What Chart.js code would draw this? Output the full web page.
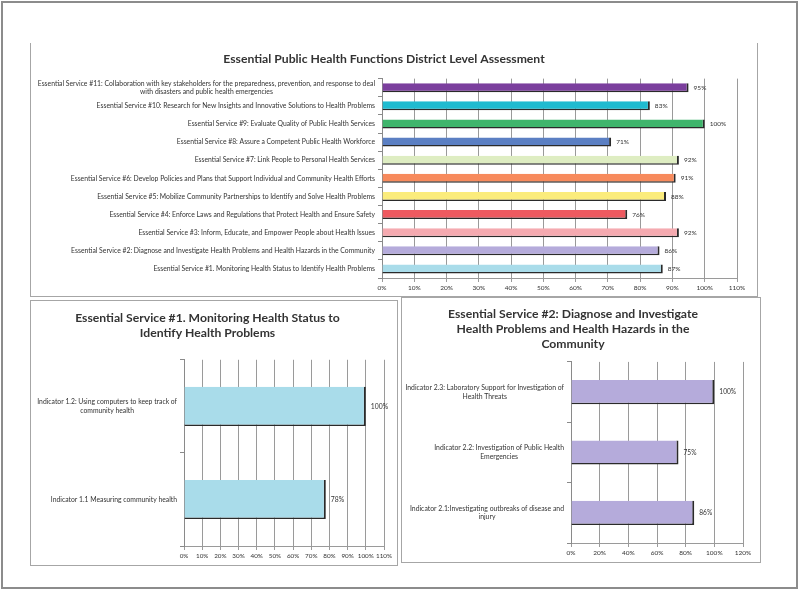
<!DOCTYPE html>
<html lang="en">
<head>
<meta charset="UTF-8">
<title>Essential Public Health Functions District Level Assessment</title>
<script src="https://cdn.jsdelivr.net/npm/chart.js"></script>
<style>
  body { margin: 0; background: #fff; width: 800px; height: 590px; position: relative; overflow: hidden; }
  .frame { position: absolute; left: 1px; top: 1px; width: 793px; height: 584px; border: 2px solid #8c8c8c; }
  .panel { position: absolute; border: 1.5px solid #a6a6a6; box-sizing: border-box; }
  canvas { position: absolute; }
</style>
</head>
<body>
<div class="frame"></div>
<div class="panel" style="left:30px;top:43px;width:728px;height:254px;border-top:none"></div>
<div class="panel" style="left:30px;top:300px;width:368px;height:266px"></div>
<div class="panel" style="left:401px;top:297px;width:360px;height:266px"></div>

<canvas id="topChart" width="725" height="252" style="left:31px;top:43px"></canvas>
<canvas id="es1Chart" width="365" height="263" style="left:31px;top:301px"></canvas>
<canvas id="es2Chart" width="356" height="262" style="left:403px;top:299px"></canvas>

<script>
// ---- data ----
const topLabels = [
    ['Essential Service #11: Collaboration with key stakeholders for the preparedness, prevention, and response to deal', 'with disasters and public health emergencies'],
    'Essential Service #10: Research for New Insights and Innovative Solutions to Health Problems',
    'Essential Service #9: Evaluate Quality of Public Health Services',
    'Essential Service #8: Assure a Competent Public Health Workforce',
    'Essential Service #7: Link People to Personal Health Services',
    'Essential Service #6: Develop Policies and Plans that Support Individual and Community Health Efforts',
    'Essential Service #5: Mobilize Community Partnerships to Identify and Solve Health Problems',
    'Essential Service #4: Enforce Laws and Regulations that Protect Health and Ensure Safety',
    'Essential Service #3: Inform, Educate, and Empower People about Health Issues',
    'Essential Service #2: Diagnose and Investigate Health Problems and Health Hazards in the Community',
    'Essential Service #1. Monitoring Health Status to Identify Health Problems'
];
const topValues = [95, 83, 100, 71, 92, 91, 88, 76, 92, 86, 87];
const topColors = ['#7b3f9d', '#1fbbd0', '#3fb56c', '#5b7fc3', '#deedc2', '#f78a5c',
                   '#fbec7c', '#ee5a60', '#f5aab0', '#b5abdb', '#a9dcea'];

const es1Labels = [
    ['Indicator 1.2: Using computers to keep track of', 'community health'],
    'Indicator 1.1 Measuring community health'
];
const es1Values = [100, 78];

const es2Labels = [
    ['Indicator 2.3: Laboratory Support for Investigation of', 'Health Threats'],
    ['Indicator 2.2: Investigation of Public Health', 'Emergencies'],
    ['Indicator 2.1:Investigating outbreaks of disease and', 'injury']
];
const es2Values = [100, 75, 86];

const FONT = 'Lato, "Open Sans", sans-serif';
const TEXT = '#333';

// y labels: block right aligned, lines centred under each other (like Excel)
const yLabelPlugin = {
    id: 'yLabels',
    afterDraw(chart) {
        const opts = chart.options.plugins.yLabels;
        const s = chart.scales.y;
        const ctx = chart.ctx;
        ctx.save();
        ctx.font = opts.size + 'px ' + FONT;
        ctx.fillStyle = TEXT;
        ctx.textAlign = 'center';
        ctx.textBaseline = 'middle';
        chart.data.labels.forEach((lab, i) => {
            const lines = Array.isArray(lab) ? lab : [lab];
            const w = Math.max(...lines.map(l => ctx.measureText(l).width));
            const cx = s.right - 7 - w / 2;
            const y0 = s.getPixelForTick(i) - (lines.length - 1) * opts.lh / 2;
            lines.forEach((l, k) => ctx.fillText(l, cx, y0 + k * opts.lh));
        });
        ctx.restore();
    }
};

// value labels at the end of each bar
const valueLabelPlugin = {
    id: 'valueLabels',
    afterDatasetsDraw(chart) {
        const opts = chart.options.plugins.valueLabels;
        const ctx = chart.ctx;
        const vals = chart.data.datasets[0].data;
        ctx.save();
        ctx.font = opts.size + 'px ' + FONT;
        ctx.fillStyle = TEXT;
        ctx.textAlign = 'left';
        ctx.textBaseline = 'middle';
        chart.getDatasetMeta(0).data.forEach((bar, i) => {
            ctx.fillText(vals[i] + '%', bar.x + 5, bar.y);
        });
        ctx.restore();
    }
};

function makeChart(id, cfg) {
    return new Chart(document.getElementById(id), {
        type: 'bar',
        data: {
            labels: cfg.labels,
            datasets: [{
                data: cfg.values,
                backgroundColor: cfg.colors,
                borderColor: '#2a2a2a',
                borderWidth: { top: 0, left: 0, right: 2, bottom: 1.5 },
                borderSkipped: false,
                barPercentage: cfg.barPct,
                categoryPercentage: 1
            }]
        },
        options: {
            indexAxis: 'y',
            responsive: false,
            animation: false,
            layout: { padding: cfg.padding },
            plugins: {
                legend: { display: false },
                tooltip: { enabled: false },
                title: {
                    display: true,
                    text: cfg.title,
                    color: TEXT,
                    font: { family: FONT, size: 12.2, weight: 'bold' },
                    padding: cfg.titlePad
                },
                yLabels: { size: cfg.ySize, lh: cfg.yLh },
                valueLabels: { size: cfg.vSize }
            },
            scales: {
                x: {
                    min: 0,
                    max: cfg.xMax,
                    afterFit: s => { s.height = cfg.xHeight; },
                    ticks: {
                        stepSize: cfg.xStep,
                        color: TEXT,
                        padding: 2,
                        autoSkip: false,
                        maxRotation: 0,
                        minRotation: 0,
                        font: { family: FONT, size: cfg.xSize },
                        callback: v => v + '%'
                    },
                    grid: { color: '#9a9a9a', tickLength: 4 },
                    border: { color: '#9a9a9a' }
                },
                y: {
                    afterFit: s => { s.width = cfg.yWidth; },
                    ticks: { color: 'rgba(0,0,0,0)', font: { size: 1 } },
                    grid: { drawOnChartArea: false, color: '#8a8a8a', tickLength: 4 },
                    border: { color: '#8a8a8a' }
                }
            }
        },
        plugins: [yLabelPlugin, valueLabelPlugin]
    });
}

makeChart('topChart', {
    labels: topLabels, values: topValues, colors: topColors,
    title: 'Essential Public Health Functions District Level Assessment',
    titlePad: { top: 8.5, bottom: 12.5 },
    padding: { left: 0, right: 19, top: 0, bottom: 0 },
    yWidth: 351, xHeight: 17, xMax: 110, xStep: 10, xSize: 6.5,
    barPct: 0.5, ySize: 6.8, yLh: 7.5, vSize: 6.5
});

makeChart('es1Chart', {
    labels: es1Labels, values: es1Values, colors: '#a9dcea',
    title: ['Essential Service #1. Monitoring Health Status to', 'Identify Health Problems'],
    titlePad: { top: 10, bottom: 19.5 },
    padding: { left: 0, right: 12, top: 0, bottom: 0 },
    yWidth: 153, xHeight: 18, xMax: 110, xStep: 10, xSize: 6.3,
    barPct: 0.42, ySize: 6.8, yLh: 9, vSize: 6.8
});

makeChart('es2Chart', {
    labels: es2Labels, values: es2Values, colors: '#b5abdb',
    title: ['Essential Service #2: Diagnose and Investigate', 'Health Problems and Health Hazards in the', 'Community'],
    titlePad: { top: 8, bottom: 11 },
    padding: { left: 0, right: 16, top: 0, bottom: 0 },
    yWidth: 168, xHeight: 18, xMax: 120, xStep: 20, xSize: 6.5,
    barPct: 0.4, ySize: 6.85, yLh: 8.5, vSize: 6.6
});
</script>
</body>
</html>
